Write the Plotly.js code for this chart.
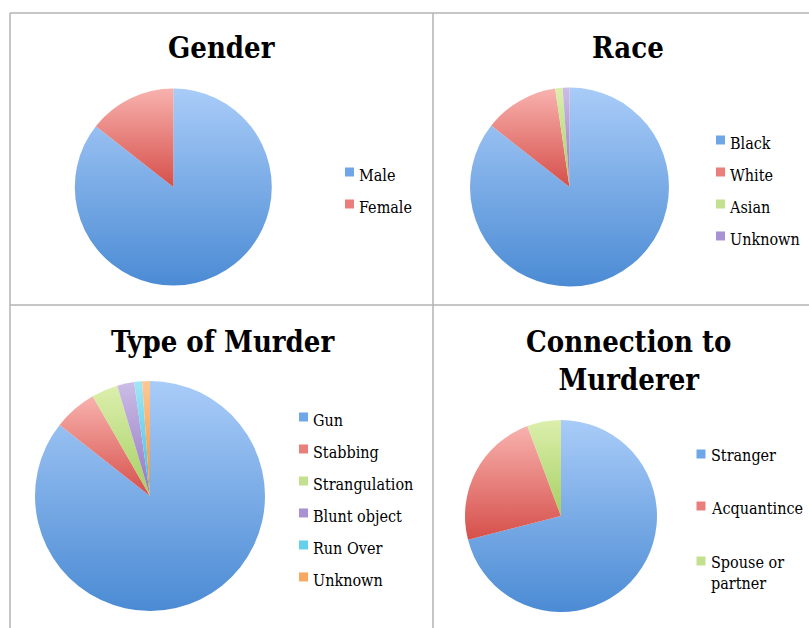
<!DOCTYPE html>
<html>
<head>
<meta charset="utf-8">
<script src="https://cdn.plot.ly/plotly-3.0.1.min.js"></script>
<style>
  html, body { margin: 0; padding: 0; background: #ffffff; }
  #plot { width: 809px; height: 628px; }
</style>
</head>
<body>
<div id="plot"></div>
<script>
// ---------- data ----------
var genderLabels = ['Male', 'Female'];
var genderValues = [85.6, 14.4];

var raceLabels = ['Black', 'White', 'Asian', 'Unknown'];
var raceValues = [85.6, 12.1, 1.2, 1.1];

var typeLabels = ['Gun', 'Stabbing', 'Strangulation', 'Blunt object', 'Run Over', 'Unknown'];
var typeValues = [85.6, 6.1, 3.7, 2.4, 1.1, 1.1];

var connLabels = ['Stranger', 'Acquantince', 'Spouse or partner'];
var connValues = [71.0, 23.3, 5.7];

var chartTitles = ['Gender', 'Race', 'Type of Murder', 'Connection to<br>Murderer'];

// ---------- styling ----------
var W = 809, H = 628;
var FONT = '"DejaVu Serif Condensed", "DejaVu Serif", "Liberation Serif", serif';
var swatch = ['#6fa6e8', '#ea7e7a', '#c3e08e', '#a892d3', '#66d0ec', '#f8a861'];
var gradTop = ['#a9ccf8', '#f8b2ae', '#dcefad', '#cbbde6', '#9fe6f6', '#fcc897'];
var gradBot = ['#4b8bd4', '#d64f4a', '#a5cf62', '#9276c2', '#3cbde0', '#f19035'];

function dom(cx, cy, r) {
  return { x: [(cx - r) / W, (cx + r) / W], y: [1 - (cy + r) / H, 1 - (cy - r) / H] };
}
function px(x) { return x / W; }
function py(y) { return 1 - y / H; }
function legendText(arr) {
  return arr.map(function (s) { return '<span style="font-size:16px">' + s + '</span>'; });
}

function pie(labels, values, domain, legendId, group, show) {
  return {
    type: 'pie',
    labels: labels,
    values: values,
    marker: { colors: swatch.slice(0, labels.length) },
    sort: false,
    direction: 'clockwise',
    rotation: 0,
    textinfo: 'none',
    hoverinfo: 'label+percent',
    domain: domain,
    legend: legendId,
    legendgroup: group,
    showlegend: show
  };
}

var tGender = pie(legendText(genderLabels), genderValues, dom(173.3, 187, 98.5), 'legend', 'gender', true);
var tRace = pie(legendText(raceLabels), raceValues, dom(569.5, 187, 99.5), 'legend2', 'race', true);
var tType = pie(legendText(typeLabels), typeValues, dom(150, 496, 115), 'legend3', 'type', true);
var tConn = pie(connLabels, connValues, dom(561, 516, 96), 'legend4', 'conn', false);

var legFont = { family: FONT, size: 22.3, color: '#000000' };
function leg(x, y) {
  return { x: px(x), y: py(y), xanchor: 'left', yanchor: 'top', bgcolor: 'rgba(0,0,0,0)',
           borderwidth: 0, font: legFont, orientation: 'v' };
}

var lineColor = '#b3b3b3';
function hline(y, x0, x1) {
  return { type: 'line', xref: 'paper', yref: 'paper', x0: px(x0), x1: px(x1), y0: py(y), y1: py(y),
           line: { color: lineColor, width: 1.5 } };
}
function vline(x, y0, y1) {
  return { type: 'line', xref: 'paper', yref: 'paper', x0: px(x), x1: px(x), y0: py(y0), y1: py(y1),
           line: { color: lineColor, width: 1.5 } };
}

var shapes = [hline(13, 10, 809), hline(305, 10, 809), vline(10, 13, 628), vline(433, 13, 628)];

var titleFont = { family: FONT, size: 29, color: '#000000', weight: 'bold' };
var titlePos = [[222, 48], [628, 48], [223, 342], [628, 361]];
var annotations = chartTitles.map(function (t, i) {
  return { text: t, x: px(titlePos[i][0]), y: py(titlePos[i][1]), xref: 'paper', yref: 'paper',
           xanchor: 'center', yanchor: 'middle', showarrow: false, font: titleFont };
});

// manual legend for the Connection chart (entries with different spacing)
function wrap(s) {
  if (s.length <= 11) return s;
  var k = s.lastIndexOf(' ');
  return s.slice(0, k) + '<br>' + s.slice(k + 1);
}
var connRowY = [456, 508, 573];
connLabels.forEach(function (lab, i) {
  var txt = wrap(lab);
  var twoLine = txt.indexOf('<br>') >= 0;
  annotations.push({ text: txt, x: px(709), y: py(connRowY[i]), xref: 'paper', yref: 'paper',
    xanchor: 'left', yanchor: 'middle', align: 'left', showarrow: false,
    font: { family: FONT, size: 16, color: '#000000' } });
  var sy = twoLine ? connRowY[i] - 12 : connRowY[i] - 2;
  shapes.push({ type: 'rect', xref: 'paper', yref: 'paper', x0: px(696.5), x1: px(705.5),
    y0: py(sy + 4.5), y1: py(sy - 4.5), fillcolor: swatch[i], line: { width: 0 } });
});

var layout = {
  width: W, height: H,
  margin: { l: 0, r: 0, t: 0, b: 0 },
  paper_bgcolor: '#ffffff',
  showlegend: true,
  legend: leg(319, 151),
  legend2: leg(690, 119),
  legend3: leg(273, 396),
  shapes: shapes,
  annotations: annotations,
  font: { family: FONT }
};

Plotly.newPlot('plot', [tGender, tRace, tType, tConn], layout, { displayModeBar: false, responsive: false })
  .then(function (gd) {
    var svgNS = 'http://www.w3.org/2000/svg';
    var svg = gd.querySelector('.main-svg');
    var defs = svg.querySelector('defs');
    if (!defs) { defs = document.createElementNS(svgNS, 'defs'); svg.insertBefore(defs, svg.firstChild); }
    gradTop.forEach(function (c, i) {
      var g = document.createElementNS(svgNS, 'linearGradient');
      g.setAttribute('id', 'slicegrad' + i);
      g.setAttribute('x1', '0'); g.setAttribute('y1', '0');
      g.setAttribute('x2', '0'); g.setAttribute('y2', '1');
      var s1 = document.createElementNS(svgNS, 'stop');
      s1.setAttribute('offset', '0'); s1.setAttribute('stop-color', c);
      var s2 = document.createElementNS(svgNS, 'stop');
      s2.setAttribute('offset', '1'); s2.setAttribute('stop-color', gradBot[i]);
      g.appendChild(s1); g.appendChild(s2);
      defs.appendChild(g);
    });
    var traces = gd.querySelectorAll('.pielayer .trace');
    traces.forEach(function (tr) {
      tr.querySelectorAll('g.slice').forEach(function (sl, j) {
        var p = sl.querySelector('path.surface');
        if (p) p.style.fill = 'url(#slicegrad' + j + ')';
      });
    });
    gd.querySelectorAll('path.legendpie').forEach(function (p) {
      p.setAttribute('d', 'M15,4.5H6V-4.5H15Z');
      p.style.strokeWidth = '0';
    });
  });
</script>
</body>
</html>
